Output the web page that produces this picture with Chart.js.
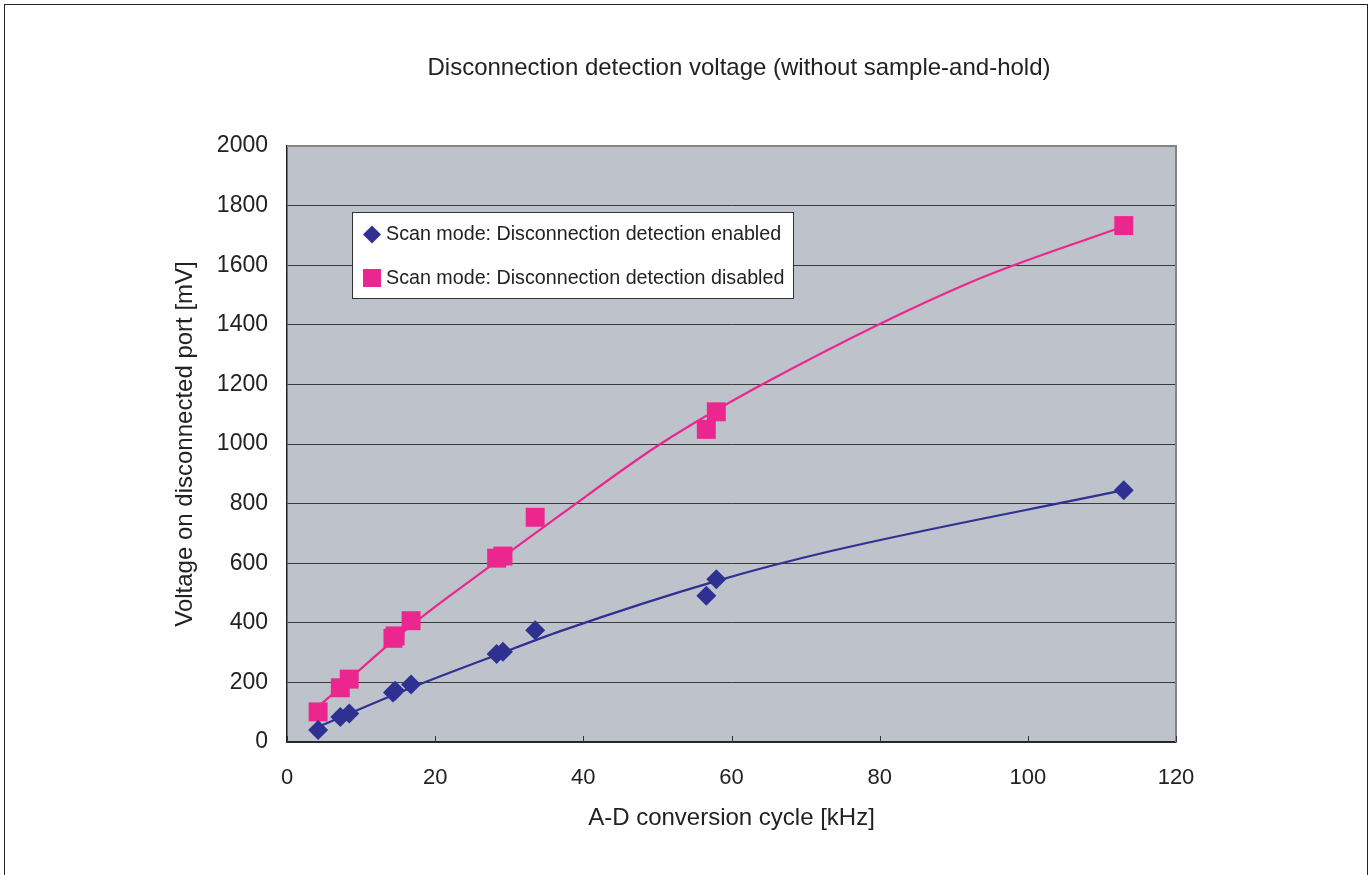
<!DOCTYPE html>
<html>
<head>
<meta charset="utf-8">
<script src="https://cdn.jsdelivr.net/npm/chart.js@4/dist/chart.umd.min.js"></script>
<style>
  html, body { margin: 0; padding: 0; background: #fff; }
  #wrap { width: 1372px; height: 875px; }
</style>
</head>
<body>
<div id="wrap"><canvas id="adChart" width="1372" height="875"></canvas></div>
<script>
// measured points (kHz / mV)
const cycleKHz = [4.2, 7.2, 8.4, 14.3, 14.6, 16.75, 28.3, 29.15, 33.5, 56.6, 57.95, 112.95];
const enabledMV = [40, 84, 96, 166, 172, 193, 295, 303, 375, 491, 546, 845];
const disabledMV = [101, 182, 211, 348, 356, 407, 617, 624, 754, 1049, 1108, 1733];

// trend curves
const enabledTrendX = [4.2, 16.75, 28.3, 36.9, 57.9, 73.3, 112.95];
const enabledTrendY = [51, 182, 292, 372, 540, 640, 845];
const disabledTrendX = [4.2, 16.7, 28.3, 36.9, 50.4, 65.2, 92.2, 112.95];
const disabledTrendY = [118, 390, 606, 762, 1000, 1214, 1542, 1731];

const xTicks = [0, 20, 40, 60, 80, 100, 120];

const chartTitle = 'Disconnection detection voltage (without sample-and-hold)';
const seriesNames = ['Scan mode: Disconnection detection enabled', 'Scan mode: Disconnection detection disabled'];
const BLUE = '#2e3192';
const PINK = '#ec268f';
const FONT = "'Liberation Sans', Arial, Helvetica, sans-serif";

function toPoints(xs, ys) {
    return xs.map((x, i) => ({ x: x, y: ys[i] }));
}

const framePlugin = {
    id: 'frame',
    beforeDraw(chart) {
        const ctx = chart.ctx;
        const a = chart.chartArea;
        ctx.save();
        ctx.fillStyle = '#fff';
        ctx.fillRect(0, 0, chart.width, chart.height);
        ctx.fillStyle = '#bec2ca';
        ctx.fillRect(a.left, a.top, a.right - a.left, a.bottom - a.top);
        ctx.strokeStyle = '#222';
        ctx.lineWidth = 1;
        ctx.strokeRect(4.5, 4.5, 1363, 900);
        // title
        ctx.fillStyle = '#222';
        ctx.font = '24px ' + FONT;
        ctx.textAlign = 'center';
        ctx.textBaseline = 'middle';
        ctx.fillText(chartTitle, 739, 68);
        ctx.restore();
    },
    beforeDatasetsDraw(chart) {
        const ctx = chart.ctx;
        const a = chart.chartArea;
        const xs = chart.scales.x;
        ctx.save();
        ctx.strokeStyle = '#858585';
        ctx.lineWidth = 2;
        ctx.beginPath();
        ctx.moveTo(a.left, a.top);
        ctx.lineTo(a.right, a.top);
        ctx.lineTo(a.right, a.bottom);
        ctx.stroke();
        // small inward ticks on the x axis
        ctx.strokeStyle = '#333';
        ctx.lineWidth = 1;
        xTicks.forEach(v => {
            const px = Math.round(xs.getPixelForValue(v)) + 0.5;
            ctx.beginPath();
            ctx.moveTo(px, a.bottom);
            ctx.lineTo(px, a.bottom - 6);
            ctx.stroke();
        });
        ctx.restore();
    },
    afterDraw(chart) {
        const ctx = chart.ctx;
        ctx.save();
        ctx.fillStyle = '#fff';
        ctx.fillRect(352, 212, 442, 87);
        ctx.strokeStyle = '#333';
        ctx.lineWidth = 1;
        ctx.strokeRect(352.5, 212.5, 441, 86);
        // diamond
        ctx.fillStyle = BLUE;
        ctx.beginPath();
        ctx.moveTo(372, 225.5);
        ctx.lineTo(381, 234.5);
        ctx.lineTo(372, 243.5);
        ctx.lineTo(363, 234.5);
        ctx.closePath();
        ctx.fill();
        // square
        ctx.fillStyle = PINK;
        ctx.fillRect(363, 269, 18, 18);
        ctx.fillStyle = '#222';
        ctx.font = '19.7px ' + FONT;
        ctx.textBaseline = 'middle';
        ctx.textAlign = 'left';
        ctx.fillText(seriesNames[0], 386, 235);
        ctx.fillText(seriesNames[1], 386, 279);
        ctx.restore();
    }
};

new Chart(document.getElementById('adChart'), {
    type: 'scatter',
    data: {
        datasets: [
            {
                label: seriesNames[0],
                data: toPoints(cycleKHz, enabledMV),
                pointStyle: 'rectRot',
                pointRadius: 10,
                backgroundColor: BLUE,
                borderColor: BLUE,
                borderWidth: 0,
                order: 0
            },
            {
                label: seriesNames[1],
                data: toPoints(cycleKHz, disabledMV),
                pointStyle: 'rect',
                pointRadius: 13.4,
                backgroundColor: PINK,
                borderColor: PINK,
                borderWidth: 0,
                order: 0
            },
            {
                label: 'trend enabled',
                type: 'line',
                data: toPoints(enabledTrendX, enabledTrendY),
                borderColor: BLUE,
                borderWidth: 2.2,
                pointRadius: 0,
                cubicInterpolationMode: 'monotone',
                fill: false,
                order: 1
            },
            {
                label: 'trend disabled',
                type: 'line',
                data: toPoints(disabledTrendX, disabledTrendY),
                borderColor: PINK,
                borderWidth: 2.2,
                pointRadius: 0,
                cubicInterpolationMode: 'monotone',
                fill: false,
                order: 1
            }
        ]
    },
    options: {
        responsive: false,
        animation: false,
        events: [],
        layout: { padding: { left: 0, right: 196, top: 146, bottom: 0 } },
        plugins: {
            legend: { display: false },
            tooltip: { enabled: false },
            title: { display: false }
        },
        scales: {
            x: {
                type: 'linear',
                min: 0,
                max: 120,
                afterBuildTicks: s => { s.ticks = xTicks.map(v => ({ value: v })); },
                afterFit: s => { s.height = 133; },
                ticks: { color: '#222', padding: 23, maxRotation: 0, font: { family: FONT, size: 22 } },
                grid: { display: false, drawTicks: false },
                border: { color: '#222', width: 1.5 },
                title: {
                    display: true,
                    text: 'A-D conversion cycle [kHz]',
                    color: '#222',
                    font: { family: FONT, size: 24 },
                    padding: { top: 0, bottom: 42.6 }
                }
            },
            y: {
                min: 0,
                max: 2000,
                afterFit: s => { s.width = 287; },
                ticks: {
                    stepSize: 200,
                    color: '#222',
                    padding: 19,
                    font: { family: FONT, size: 23 },
                    callback: v => String(v)
                },
                grid: { color: '#3a3a3a', lineWidth: 1, drawTicks: false },
                border: { color: '#222', width: 1.5 },
                title: {
                    display: true,
                    text: 'Voltage on disconnected port [mV]',
                    color: '#222',
                    font: { family: FONT, size: 24 },
                    padding: { top: 170.6, bottom: 0 }
                }
            }
        }
    },
    plugins: [framePlugin]
});
</script>
</body>
</html>
